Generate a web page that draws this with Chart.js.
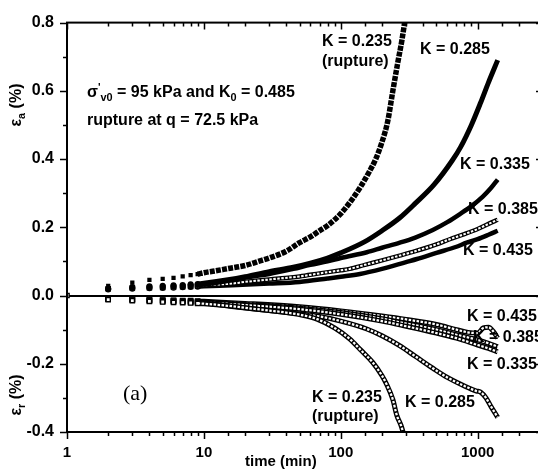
<!DOCTYPE html>
<html>
<head>
<meta charset="utf-8">
<script src="https://cdn.jsdelivr.net/npm/chart.js@4/dist/chart.umd.min.js"></script>
<style>
  html, body { margin: 0; padding: 0; background: #fff; overflow: hidden; }
  #strain { display: block; }
</style>
</head>
<body>
<canvas id="strain" width="560" height="472"></canvas>
<script>
// creep tests, sigma'v0 = 95 kPa, K0 = 0.485
// axial strain (ea) per K value: times in min, strain in %
const tA235 = [2, 3, 4, 5, 6, 7, 8, 9, 10, 12, 15, 20, 25, 30, 40, 50, 60, 70, 80, 100, 120, 140, 160, 180, 200, 220, 240, 260, 280, 295];
const eA235 = [0.028, 0.038, 0.046, 0.049, 0.052, 0.056, 0.06, 0.063, 0.067, 0.072, 0.079, 0.088, 0.1, 0.11, 0.13, 0.155, 0.172, 0.19, 0.205, 0.24, 0.28, 0.32, 0.36, 0.4, 0.45, 0.51, 0.6, 0.68, 0.75, 0.81];

const tA285 = [2, 3, 4, 5, 6, 7, 8, 9, 10, 15, 20, 30, 45, 60, 80, 100, 150, 200, 270, 350, 480, 650, 750, 900, 1050, 1200, 1400];
const eA285 = [0.02, 0.025, 0.027, 0.029, 0.03, 0.031, 0.033, 0.034, 0.036, 0.046, 0.055, 0.07, 0.083, 0.095, 0.11, 0.125, 0.158, 0.19, 0.228, 0.27, 0.325, 0.395, 0.435, 0.5, 0.565, 0.625, 0.69];

const tA335 = [2, 3, 4, 5, 6, 7, 8, 9, 10, 15, 22, 30, 45, 60, 80, 100, 155, 200, 270, 350, 470, 600, 750, 900, 1090, 1250, 1400];
const eA335 = [0.02, 0.022, 0.024, 0.026, 0.027, 0.028, 0.03, 0.031, 0.032, 0.043, 0.055, 0.063, 0.078, 0.09, 0.1, 0.11, 0.127, 0.14, 0.155, 0.17, 0.192, 0.215, 0.24, 0.262, 0.29, 0.315, 0.34];

const tA385 = [2, 3, 4, 5, 6, 7, 8, 9, 10, 16, 20, 30, 50, 70, 100, 116, 150, 200, 269, 350, 500, 625, 800, 1000, 1200, 1400];
const eA385 = [0.02, 0.022, 0.023, 0.024, 0.025, 0.026, 0.027, 0.028, 0.03, 0.035, 0.04, 0.047, 0.056, 0.065, 0.074, 0.078, 0.09, 0.103, 0.117, 0.13, 0.15, 0.165, 0.18, 0.195, 0.21, 0.222];

const tA435 = [2, 3, 4, 5, 6, 7, 8, 9, 10, 16, 30, 50, 80, 100, 138, 200, 300, 360, 500, 700, 830, 1000, 1200, 1400];
const eA435 = [0.018, 0.02, 0.021, 0.022, 0.023, 0.024, 0.025, 0.026, 0.027, 0.03, 0.035, 0.04, 0.05, 0.055, 0.063, 0.078, 0.098, 0.107, 0.125, 0.143, 0.155, 0.165, 0.178, 0.19];

// radial strain (er)
const tR235 = [2, 3, 4, 5, 6, 7, 8, 9, 10, 15, 20, 30, 40, 50, 67, 90, 116, 140, 171, 200, 216, 240, 256, 275, 290];
const eR235 = [-0.012, -0.015, -0.017, -0.019, -0.02, -0.021, -0.022, -0.023, -0.024, -0.03, -0.036, -0.044, -0.05, -0.056, -0.069, -0.095, -0.127, -0.16, -0.196, -0.235, -0.26, -0.305, -0.35, -0.38, -0.41];

const tR285 = [2, 3, 4, 5, 6, 7, 8, 9, 10, 16, 30, 50, 67, 100, 155, 200, 269, 350, 470, 600, 800, 980, 1050, 1150, 1250, 1400];
const eR285 = [-0.01, -0.013, -0.015, -0.017, -0.018, -0.019, -0.02, -0.021, -0.022, -0.032, -0.044, -0.054, -0.06, -0.075, -0.098, -0.118, -0.147, -0.178, -0.213, -0.24, -0.265, -0.28, -0.283, -0.3, -0.325, -0.357];

const tR335 = [2, 3, 4, 5, 6, 7, 8, 9, 10, 20, 50, 100, 200, 300, 500, 700, 1000, 1200, 1400];
const eR335 = [-0.01, -0.012, -0.014, -0.015, -0.016, -0.017, -0.018, -0.019, -0.02, -0.028, -0.04, -0.055, -0.075, -0.09, -0.11, -0.125, -0.145, -0.155, -0.165];

const tR385 = [2, 3, 4, 5, 6, 7, 8, 9, 10, 20, 50, 100, 200, 300, 500, 700, 1000, 1200, 1400];
const eR385 = [-0.01, -0.012, -0.013, -0.014, -0.015, -0.016, -0.017, -0.018, -0.019, -0.026, -0.037, -0.05, -0.068, -0.082, -0.1, -0.115, -0.13, -0.14, -0.15];

const tR435 = [1, 2, 3, 4, 5, 6, 7, 8, 9, 10, 20, 50, 100, 200, 300, 500, 700, 850, 1000, 1100, 1200, 1300, 1400];
const eR435 = [0, -0.01, -0.011, -0.012, -0.013, -0.014, -0.015, -0.015, -0.016, -0.017, -0.023, -0.033, -0.045, -0.06, -0.07, -0.085, -0.1, -0.108, -0.11, -0.095, -0.093, -0.105, -0.125];

// axis ranges
const timeMin = 1, timeMax = 3000;
const strainMin = -0.4, strainMax = 0.8;

const FONT = '"Liberation Sans", Arial, sans-serif';

function pts(ts, vs) {
    return ts.map((t, i) => ({ x: t, y: vs[i] }));
}

// early readings stay as separate markers, later ones merge into a thick trace
const earlyGap = ctx => (ctx.p1.parsed.x <= 9 ? 'rgba(0,0,0,0)' : undefined);
const earlyRadius = r => ctx => (ctx.parsed && ctx.parsed.x <= 9.5 ? r : 0);

function solidTrace(data, order, style, width, dash) {
    return {
        data: data, order: order,
        borderColor: '#000', backgroundColor: '#000',
        borderWidth: width, borderDash: dash || [],
        pointStyle: style, pointRadius: earlyRadius(3),
        pointBorderWidth: 0,
        segment: { borderColor: earlyGap }
    };
}
// open symbols: black trace with a white dashed core on top
function openTrace(data, order, width) {
    return [{
        data: data, order: order + 1,
        borderColor: '#000', backgroundColor: '#fff',
        borderWidth: width,
        pointStyle: 'rect', pointRadius: earlyRadius(3),
        pointBorderColor: '#000', pointBorderWidth: 1.4,
        segment: { borderColor: earlyGap }
    }, {
        data: data, order: order,
        borderColor: '#fff', borderWidth: width * 0.45,
        borderDash: [2.5, 1.5], pointRadius: 0,
        segment: { borderColor: earlyGap }
    }];
}

const datasets = [
    solidTrace(pts(tA235, eA235), 1, 'rect', 5.5, [5, 1.2]),
    solidTrace(pts(tA285, eA285), 3, 'circle', 5),
    solidTrace(pts(tA335, eA335), 5, 'circle', 4.5),
    ...openTrace(pts(tA385, eA385), 7, 4.5),
    solidTrace(pts(tA435, eA435), 9, 'circle', 4.5),
    ...openTrace(pts(tR235, eR235), 11, 5),
    ...openTrace(pts(tR285, eR285), 13, 5),
    ...openTrace(pts(tR335, eR335), 15, 5),
    ...openTrace(pts(tR385, eR385), 17, 5),
    ...openTrace(pts(tR435, eR435), 19, 5)
];

function richWidth(ctx, parts, px) {
    let w = 0;
    for (const [txt, mode] of parts) {
        ctx.font = 'bold ' + (mode ? px * 0.68 : px) + 'px ' + FONT;
        w += ctx.measureText(txt).width;
    }
    return w;
}
function drawRich(ctx, x, y, parts, px) {
    let cx = x;
    for (const [txt, mode] of parts) {
        ctx.font = 'bold ' + (mode ? px * 0.68 : px) + 'px ' + FONT;
        const dy = mode === 'sub' ? px * 0.32 : mode === 'sup' ? -px * 0.3 : 0;
        ctx.fillText(txt, cx, y + dy);
        cx += ctx.measureText(txt).width;
    }
}

// curve labels and notes
const notes = [
    ['K = 0.235', 322, 42], ['(rupture)', 322, 62],
    ['K = 0.285', 420, 50],
    ['K = 0.335', 460, 165],
    ['K = 0.385', 468, 210],
    ['K = 0.435', 463, 251],
    ['K = 0.435', 467, 317],
    ['K = 0.385', 473, 338],
    ['K = 0.335', 467, 365],
    ['K = 0.285', 405, 403],
    ['K = 0.235', 312, 398], ['(rupture)', 312, 417]
];

const textLayer = {
    id: 'textLayer',
    afterDraw(chart) {
        const ctx = chart.ctx;
        ctx.save();
        ctx.fillStyle = '#000';
        ctx.textBaseline = 'middle';
        ctx.textAlign = 'left';
        ctx.font = 'bold 16px ' + FONT;
        for (const [txt, x, y] of notes) ctx.fillText(txt, x, y);

        drawRich(ctx, 87, 93, [['σ', ''], ['\'', 'sup'], ['v0', 'sub'], [' = 95 kPa and K', ''], ['0', 'sub'], [' = 0.485', '']], 16);
        ctx.font = 'bold 16px ' + FONT;
        ctx.fillText('rupture at q = 72.5 kPa', 87, 121);

        ctx.font = '22px "Liberation Serif", "Times New Roman", serif';
        ctx.fillText('(a)', 123, 394);

        ctx.font = 'bold 15px ' + FONT;
        ctx.fillText('time (min)', 245, 462);

        // rotated strain titles
        const titles = [[[['ε', ''], ['a', 'sub'], [' (%)', '']], 105], [[['ε', ''], ['r', 'sub'], [' (%)', '']], 395]];
        for (const [parts, cy] of titles) {
            ctx.save();
            ctx.translate(17, cy);
            ctx.rotate(-Math.PI / 2);
            const w = richWidth(ctx, parts, 16);
            drawRich(ctx, -w / 2, 0, parts, 16);
            ctx.restore();
        }
        ctx.restore();
    }
};

// frame with outward ticks on left/bottom, inward ticks on top/right
const frame = {
    id: 'frame',
    afterDraw(chart) {
        const { ctx, chartArea: a } = chart;
        const xs = chart.scales.x, ys = chart.scales.y;
        ctx.save();
        ctx.strokeStyle = '#000';
        ctx.lineWidth = 2;
        ctx.strokeRect(a.left, a.top, a.right - a.left, a.bottom - a.top);
        ctx.lineWidth = 1.5;
        ctx.beginPath();
        for (const t of xs.ticks) {
            const lg = Math.log10(t.value);
            const major = Math.abs(lg - Math.round(lg)) < 1e-9;
            const len = major ? 7 : 4;
            const px = Math.round(xs.getPixelForValue(t.value)) + 0.5;
            ctx.moveTo(px, a.bottom); ctx.lineTo(px, a.bottom + len);
            ctx.moveTo(px, a.top); ctx.lineTo(px, a.top + len);
        }
        for (const t of ys.ticks) {
            const major = Math.round(t.value * 10) % 2 === 0;
            const len = major ? 7 : 4;
            const py = Math.round(ys.getPixelForValue(t.value)) + 0.5;
            ctx.moveTo(a.left, py); ctx.lineTo(a.left - len, py);
            ctx.moveTo(a.right, py); ctx.lineTo(a.right - len, py);
        }
        ctx.stroke();
        ctx.restore();
    }
};

new Chart(document.getElementById('strain'), {
    type: 'line',
    data: { datasets: datasets },
    options: {
        responsive: false,
        animation: false,
        devicePixelRatio: 1,
        layout: { padding: { top: 16, right: 17, left: 0, bottom: 0 } },
        elements: { line: { cubicInterpolationMode: 'monotone', borderCapStyle: 'butt', borderJoinStyle: 'round' } },
        plugins: { legend: { display: false }, tooltip: { enabled: false } },
        scales: {
            x: {
                type: 'logarithmic',
                min: timeMin, max: timeMax,
                grid: { display: false, drawTicks: false },
                border: { display: false },
                ticks: {
                    autoSkip: false, maxRotation: 0, padding: 12,
                    color: '#000', font: { family: FONT, size: 15, weight: 'bold' },
                    callback: v => {
                        const lg = Math.log10(v);
                        return Math.abs(lg - Math.round(lg)) < 1e-9 ? String(v) : '';
                    }
                },
                afterFit: s => { s.height = 40; }
            },
            y: {
                min: strainMin, max: strainMax,
                grid: {
                    drawTicks: false,
                    color: c => (c.tick && Math.abs(c.tick.value) < 1e-9 ? '#000' : 'rgba(0,0,0,0)'),
                    lineWidth: 2
                },
                border: { display: false },
                ticks: {
                    stepSize: 0.1, padding: 13, color: '#000',
                    font: { family: FONT, size: 16, weight: 'bold' },
                    callback: v => {
                        const n = Math.round(v * 10);
                        return n % 2 === 0 ? (n / 10).toFixed(1) : '';
                    }
                },
                afterFit: s => { s.width = 67; }
            }
        }
    },
    plugins: [frame, textLayer]
});
</script>
</body>
</html>
